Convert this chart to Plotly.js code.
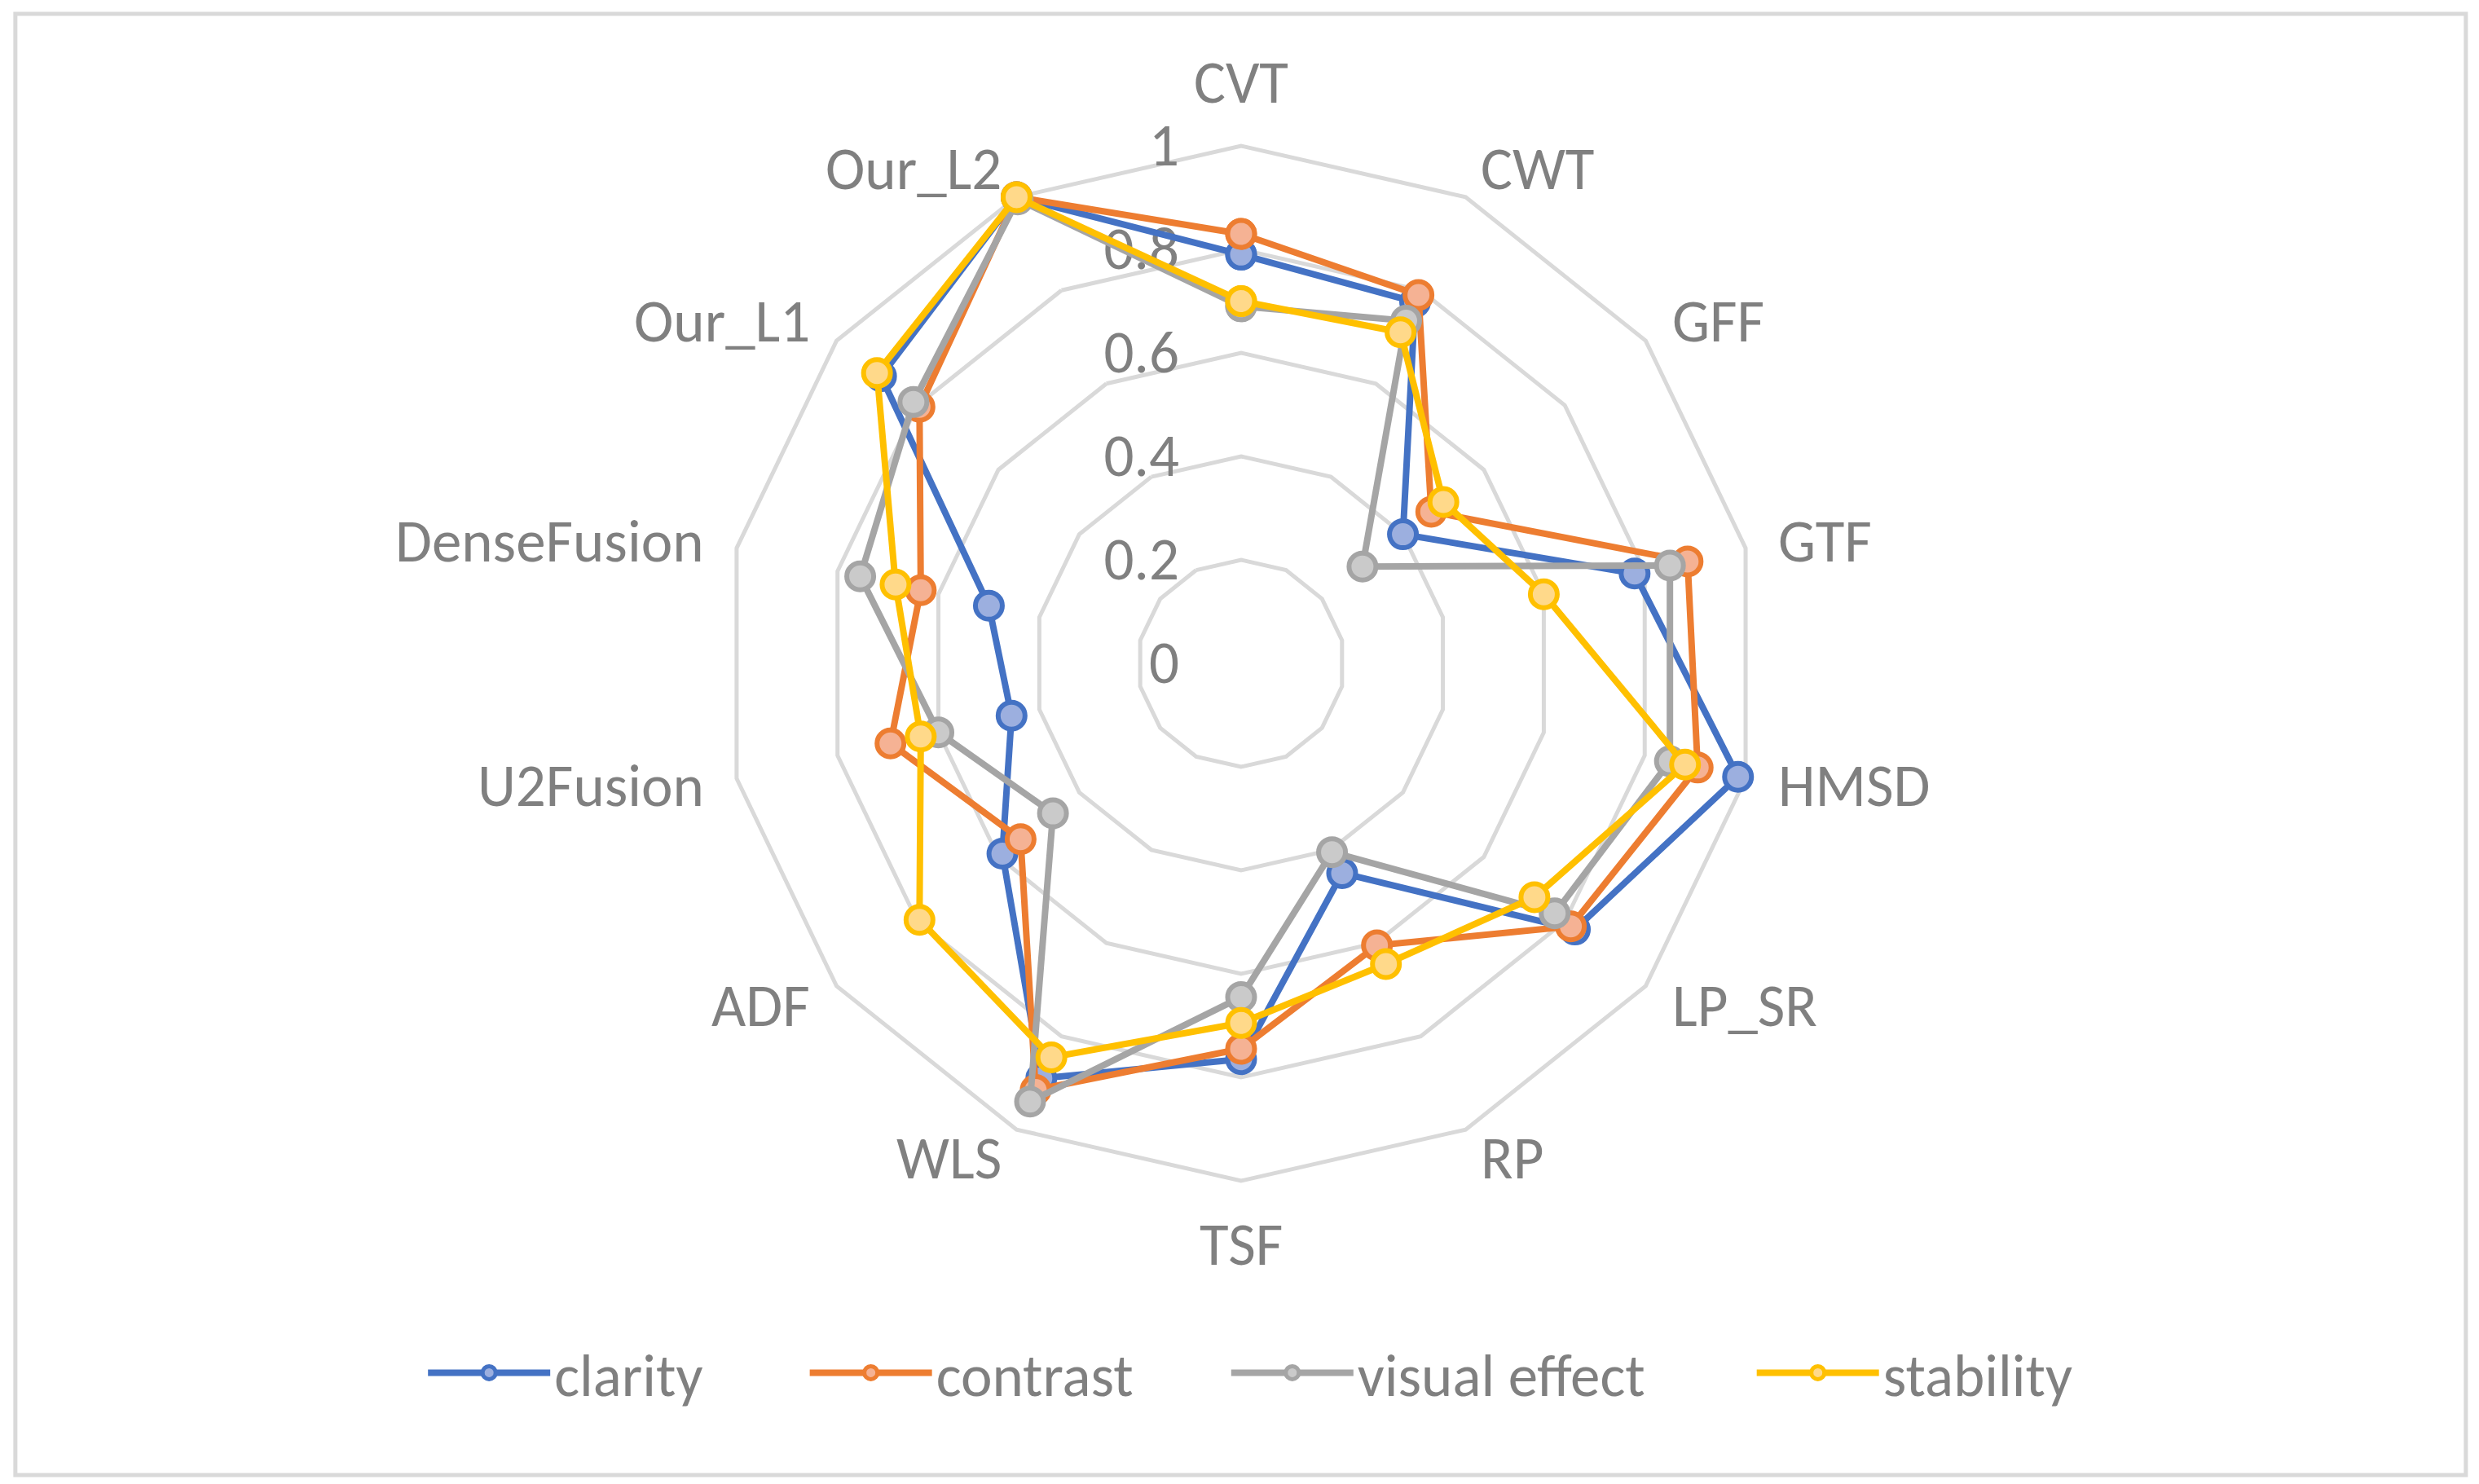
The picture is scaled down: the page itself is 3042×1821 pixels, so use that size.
<!DOCTYPE html>
<html>
<head>
<meta charset="utf-8">
<script src="https://cdn.plot.ly/plotly-3.0.1.min.js"></script>
<style>html,body{margin:0;padding:0;background:#fff;}#chart{width:3042px;height:1821px;}</style>
</head>
<body>
<div id="chart"></div>
<script>
const categories = ["CVT","CWT","GFF","GTF","HMSD","LP_SR","RP","TSF","WLS","ADF","U2Fusion","DenseFusion","Our_L1","Our_L2"];
const clarity      = [0.79, 0.775, 0.40, 0.78, 0.985, 0.825, 0.45, 0.765, 0.89, 0.59, 0.455, 0.50, 0.89, 1.0];
const contrast     = [0.83, 0.79, 0.47, 0.885, 0.905, 0.815, 0.605, 0.745, 0.915, 0.545, 0.695, 0.635, 0.795, 1.0];
const visualEffect = [0.69, 0.735, 0.30, 0.85, 0.85, 0.775, 0.405, 0.645, 0.94, 0.465, 0.60, 0.755, 0.81, 0.995];
const stability    = [0.70, 0.71, 0.50, 0.60, 0.88, 0.725, 0.645, 0.695, 0.845, 0.795, 0.635, 0.685, 0.90, 1.0];
const seriesNames  = ["clarity","contrast","visual effect","stability"];
const radialTicks  = [0, 0.2, 0.4, 0.6, 0.8, 1];

const W = 3042, H = 1821;
const series = [clarity, contrast, visualEffect, stability];
const lineColors = ["#4472C4","#ED7D31","#A5A5A5","#FFC000"];
const fillColors = ["#9CAFDF","#F5B294","#CACACA","#FFD98A"];
const legendX = [0.171, 0.325, 0.495, 0.707];
const FONT = "Calibri, Carlito, Lato, 'Open Sans', sans-serif";
const FS = 73;
const GREY = "#808080";

const domain = {x: [0.2919, 0.7094], y: [0.2043, 0.9017]};

const traces = series.map((vals, i) => ({
  type: "scatterpolar",
  name: seriesNames[i],
  legend: i === 0 ? "legend" : "legend" + (i + 1),
  mode: "lines+markers",
  r: vals.concat([vals[0]]),
  theta: categories.concat([categories[0]]),
  line: {color: lineColors[i], width: 8},
  marker: {size: 33, color: fillColors[i], line: {color: lineColors[i], width: 6}},
  cliponaxis: false
}));

// category labels placed beside the outer polygon vertices (Excel style)
const cx = W * (domain.x[0] + domain.x[1]) / 2;
const cy = H * (1 - (domain.y[0] + domain.y[1]) / 2);
const R = Math.min(W * (domain.x[1] - domain.x[0]), H * (domain.y[1] - domain.y[0])) / 2;
const annotations = categories.map((c, i) => {
  const th = 2 * Math.PI * i / categories.length;
  const sx = Math.sin(th), sy = Math.cos(th);
  const vertical = Math.abs(sy) > 0.95;
  const gap = vertical ? 31 : 39;
  const px = cx + (R + gap) * sx, py = cy - (R + gap) * sy;
  return {
    xref: "paper", yref: "paper", x: px / W, y: 1 - py / H,
    text: c, showarrow: false,
    xanchor: sx > 0.1 ? "left" : (sx < -0.1 ? "right" : "center"),
    yanchor: vertical ? (sy > 0 ? "bottom" : "top") : "middle",
    font: {family: FONT, size: FS, color: GREY}
  };
});

const legendBase = {
  orientation: "h", xanchor: "left", y: 0.075, yanchor: "middle",
  font: {family: FONT, size: FS, color: GREY},
  itemwidth: 150, bgcolor: "rgba(0,0,0,0)"
};

const layout = {
  width: W, height: H,
  margin: {l: 0, r: 0, t: 0, b: 0},
  paper_bgcolor: "#ffffff",
  font: {family: FONT, color: GREY, size: FS},
  showlegend: true,
  legend:  Object.assign({}, legendBase, {x: legendX[0]}),
  legend2: Object.assign({}, legendBase, {x: legendX[1]}),
  legend3: Object.assign({}, legendBase, {x: legendX[2]}),
  legend4: Object.assign({}, legendBase, {x: legendX[3]}),
  polar: {
    domain: domain,
    gridshape: "linear",
    bgcolor: "#ffffff",
    angularaxis: {
      type: "category", categoryarray: categories,
      direction: "clockwise", rotation: 90,
      showgrid: false, showline: true, linecolor: "#d9d9d9", linewidth: 5,
      showticklabels: false, ticks: "",
      layer: "below traces"
    },
    radialaxis: {
      range: [0, 1], tickvals: radialTicks, ticktext: radialTicks.map(String),
      angle: 90, side: "counterclockwise", tickangle: 90,
      showline: false, showgrid: true, gridcolor: "#d9d9d9", gridwidth: 5,
      ticks: "outside", ticklen: 50, tickcolor: "rgba(0,0,0,0)",
      tickfont: {family: FONT, size: FS, color: GREY},
      layer: "below traces"
    }
  },
  annotations: annotations,
  shapes: [{
    type: "rect", xref: "paper", yref: "paper",
    x0: 0.0062, x1: 0.9947, y0: 0.006, y1: 0.9907,
    line: {color: "#d9d9d9", width: 5}, fillcolor: "rgba(0,0,0,0)"
  }]
};

Plotly.newPlot("chart", traces, layout, {displayModeBar: false, staticPlot: true});
</script>
</body>
</html>
